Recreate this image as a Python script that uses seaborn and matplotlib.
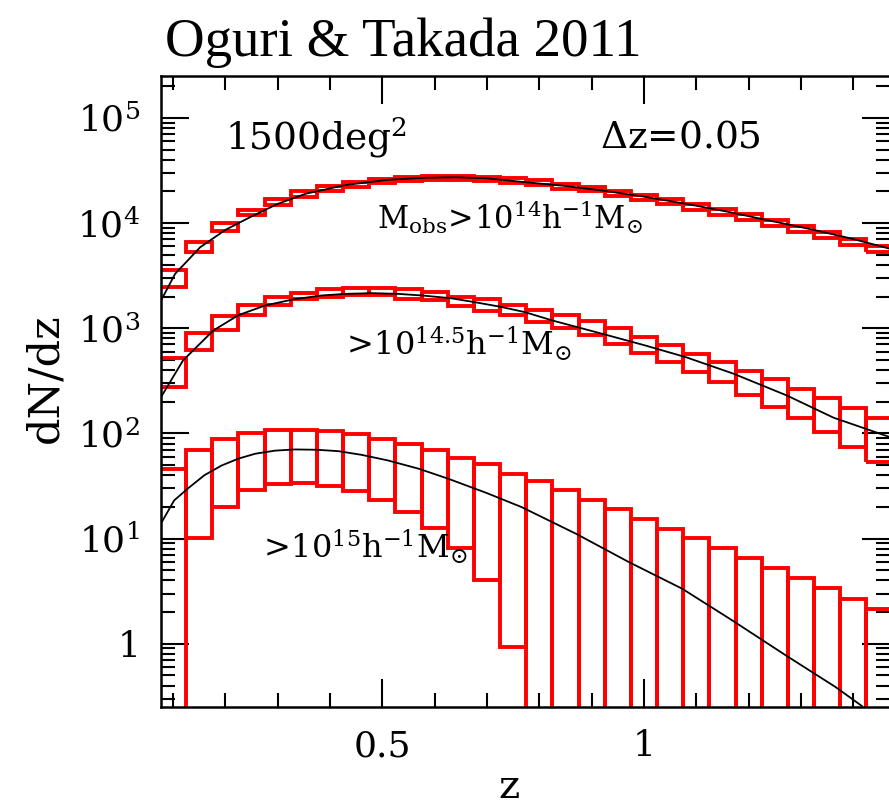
import numpy as np
import matplotlib
matplotlib.use("Agg")
import matplotlib.pyplot as plt
import seaborn as sns
from matplotlib.ticker import MultipleLocator, LogLocator, NullFormatter

# redshift bin centres (width 0.05)
z_bins = [0.10, 0.15, 0.20, 0.25, 0.30, 0.35, 0.40, 0.45, 0.50, 0.55,
          0.60, 0.65, 0.70, 0.75, 0.80, 0.85, 0.90, 0.95, 1.00, 1.05,
          1.10, 1.15, 1.20, 1.25, 1.30, 1.35, 1.40, 1.45]
bin_width = 0.05

# dN/dz ranges per bin, M_obs > 1e14 h^-1 Msun
n14_hi = [3556, 6571, 9950, 13370, 16990, 19950, 22400, 24450, 26320, 27240,
          27850, 27850, 27240, 27000, 25630, 23750, 22230, 20060, 18580, 16990,
          15250, 13520, 12130, 10570, 9310, 8130, 7080, 6010]
n14_lo = [2455, 5276, 8486, 11790, 14890, 17860, 20360, 22230, 23900, 24980,
          25760, 25760, 24980, 24270, 22970, 21280, 19950, 17980, 16660, 15230,
          13370, 11870, 10640, 9270, 8160, 7130, 6210, 5270]

# M_obs > 10^14.5 h^-1 Msun
n145_hi = [523, 904, 1300, 1668, 1972, 2173, 2371, 2422, 2422, 2371,
           2198, 1972, 1905, 1644, 1500, 1330, 1180, 1009, 820, 698,
           570, 474, 395, 330, 265, 218, 175, 141]
n145_lo = [275, 614, 951, 1349, 1668, 1905, 2000, 2090, 2090, 1905,
           1834, 1608, 1446, 1321, 1150, 1000, 853, 711, 578, 474,
           381, 306, 234, 179, 141, 103, 74.3, 53.2]

# M_obs > 1e15 h^-1 Msun
n15_hi = [45.4, 68.8, 88.9, 101, 108, 108, 105, 97.6, 88.9, 79.6,
          69.8, 58.7, 51.4, 41.3, 35.1, 29.1, 23.4, 19.0, 15.3, 12.4,
          10.1, 8.18, 6.57, 5.27, 4.24, 3.41, 2.68, 2.15]
n15_lo = [0, 10.1, 19.9, 28.7, 32.7, 33.9, 31.3, 28.0, 23.0, 17.8,
          12.7, 8.18, 4.0, 0.93, 0, 0, 0, 0, 0, 0,
          0, 0, 0, 0, 0, 0, 0, 0]

# model predictions
model14_z = [0.077, 0.104, 0.152, 0.200, 0.247, 0.300, 0.353, 0.430, 0.511, 0.580,
             0.639, 0.700, 0.773, 0.850, 0.920, 1.000, 1.080, 1.160, 1.239, 1.320,
             1.398, 1.470]
model14_n = [1830, 3290, 5890, 8600, 11350, 15200, 18950, 23000, 25760, 26900,
             27240, 26600, 24450, 22500, 20360, 17800, 15230, 12800, 10560, 8700,
             7080, 5690]

model145_z = [0.077, 0.119, 0.177, 0.225, 0.276, 0.330, 0.384, 0.430, 0.480, 0.530,
              0.575, 0.630, 0.677, 0.725, 0.773, 0.825, 0.920, 1.000, 1.080, 1.171,
              1.273, 1.362, 1.470]
model145_n = [221, 493, 951, 1330, 1644, 1880, 2047, 2120, 2153, 2120,
              2047, 1930, 1766, 1600, 1419, 1183, 885, 690, 530, 369,
              229, 141, 92]

model15_z = [0.077, 0.102, 0.129, 0.160, 0.193, 0.225, 0.257, 0.295, 0.333, 0.375,
             0.416, 0.460, 0.511, 0.570, 0.626, 0.700, 0.766, 0.870, 0.971, 1.073,
             1.169, 1.271, 1.366, 1.417]
model15_n = [13.9, 23.0, 30.1, 40.0, 49.5, 57.5, 64.0, 68.5, 70.3, 69.8,
             67.7, 62.5, 55.2, 46.0, 37.0, 27.0, 19.9, 11.1, 5.97, 3.33,
             1.66, 0.774, 0.387, 0.254]

x_major_ticks = [0.5, 1.0]
x_major_labels = ["0.5", "1"]
y_major_ticks = [1, 10, 100, 1000, 10000, 100000]
y_major_labels = ["1", r"$10^{1}$", r"$10^{2}$", r"$10^{3}$", r"$10^{4}$", r"$10^{5}$"]

sns.set_theme(style="ticks")
plt.rcParams["font.family"] = ["DejaVu Serif"]
plt.rcParams["mathtext.fontset"] = "dejavuserif"

fig = plt.figure(figsize=(8.89, 8.07), dpi=100)
ax = fig.add_axes([161 / 889, 100 / 807, 729 / 889, 631 / 807])
ax.set_yscale("log", nonpositive="clip")

# histogram ranges drawn as open boxes spanning lower..upper in each bin
for hi, lo in ((n14_hi, n14_lo), (n145_hi, n145_lo), (n15_hi, n15_lo)):
    hi = np.asarray(hi, dtype=float)
    lo = np.asarray(lo, dtype=float)
    ax.bar(z_bins, hi - lo, bottom=lo, width=bin_width, align="center",
           fill=False, edgecolor="#ff0000", linewidth=2.8, zorder=2)

for zz, nn in ((model14_z, model14_n), (model145_z, model145_n), (model15_z, model15_n)):
    sns.lineplot(x=zz, y=nn, color="black", linewidth=1.3, ax=ax, zorder=3)

ax.set_xlim(0.077, 1.47)
ax.set_ylim(0.25, 2.5e5)

ax.set_xticks(x_major_ticks, x_major_labels)
ax.xaxis.set_minor_locator(MultipleLocator(0.1))
ax.set_yticks(y_major_ticks, y_major_labels)
ax.yaxis.set_minor_locator(LogLocator(base=10, subs=np.arange(2, 10) * 1.0, numticks=50))
ax.yaxis.set_minor_formatter(NullFormatter())

ax.tick_params(which="both", direction="in", top=True, right=True,
               width=1.5, color="black", labelcolor="black", labelsize=26)
ax.tick_params(which="major", length=20)
ax.tick_params(which="minor", length=10)
ax.tick_params(axis="y", pad=15)
ax.tick_params(axis="x", pad=16)
for sp in ax.spines.values():
    sp.set_linewidth(1.8)
    sp.set_color("black")

ax.set_xlabel("")
ax.set_ylabel("")
fig.text(45 / 889, 1 - 378 / 807, "dN/dz", rotation=90, ha="center", va="center",
         fontsize=31, color="black")
fig.text(509 / 889, 1 - 788 / 807, "z", ha="center", va="center",
         fontsize=29, color="black")

fig.text(165 / 889, 1 - 56 / 807, "Oguri & Takada 2011", ha="left", va="baseline",
         fontsize=39.5, color="black", family="Liberation Serif")

ax.text(0.088, 0.902, r"1500deg$^{2}$", transform=ax.transAxes, ha="left", va="center",
        fontsize=27, color="black")
ax.text(0.602, 0.902, r"$\Delta$z=0.05", transform=ax.transAxes, ha="left", va="center",
        fontsize=27, color="black")
ax.text(0.296, 0.757, r"$\mathrm{M_{obs}}\!>\!10^{14}\mathrm{h^{-1}M_{\odot}}$",
        transform=ax.transAxes, ha="left", va="baseline", fontsize=22, color="black")
ax.text(0.2455, 0.556, r"$>\!10^{14.5}\mathrm{h^{-1}M_{\odot}}$",
        transform=ax.transAxes, ha="left", va="baseline", fontsize=23, color="black")
ax.text(0.1317, 0.2357, r"$>\!10^{15}\mathrm{h^{-1}M_{\odot}}$",
        transform=ax.transAxes, ha="left", va="baseline", fontsize=23, color="black")

fig.savefig("out.png", dpi=100)
